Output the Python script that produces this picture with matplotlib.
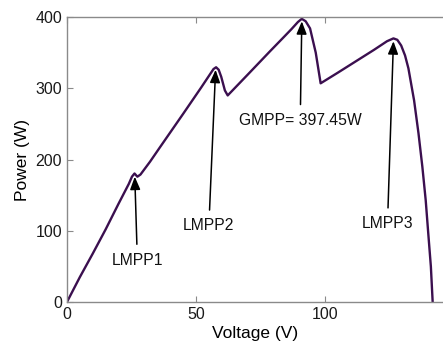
import numpy as np
import matplotlib.pyplot as plt

plt.rcParams['font.family'] = ['Liberation Sans', 'DejaVu Sans']

# P-V curve of a partially shaded array
voltage = [0, 5, 10, 15, 20, 24, 25.2, 26.2, 27.3, 28.5, 32.2, 36, 45, 52,
           55.5, 56.8, 57.8, 58.8, 59.8, 61.2, 62.3, 70, 78.7, 83.8, 87,
           89.5, 91, 92.5, 94.2, 96.4, 98.3, 105, 112, 119, 124, 126.5,
           128, 129.5, 131, 132.3, 134.5, 136.2, 137.7, 139.0, 140.0, 141.0, 141.7]
power = [0, 35, 68, 102, 138, 166, 176, 180.5, 176, 179, 197, 217, 264, 301,
         320, 327, 329.5, 326, 316, 297, 290, 319, 352, 371, 383,
         393, 397.45, 394, 384, 350, 307, 322, 338, 354, 366, 370,
         368, 360, 346, 328, 283, 237, 190, 143, 96, 50, 0]

# annotations: label, arrow tip, text centre
labels = ['LMPP1', 'LMPP2', 'GMPP= 397.45W', 'LMPP3']
tips = [(26.3, 176), (57.6, 326), (91, 394), (126.5, 366)]
text_pos = [(27.3, 59), (55.0, 107), (90.4, 255), (124.2, 110)]

fig = plt.figure(figsize=(4.43, 3.58), dpi=100)
ax = fig.add_axes([0.151, 0.156, 0.849, 0.7965])

ax.plot(voltage, power, color='#3b0f4f', lw=1.7)

for lab, tip, pos in zip(labels, tips, text_pos):
    ax.annotate(lab, xy=tip, xytext=pos, ha='center', va='center',
                fontsize=11.3, color='#111111',
                arrowprops=dict(arrowstyle='-|>,head_length=0.55,head_width=0.22',
                                color='black', lw=1.1,
                                mutation_scale=14, shrinkA=4, shrinkB=0))

ax.set_xlim(0, 145.7)
ax.set_ylim(0, 400)
ax.set_xticks([0, 50, 100])
ax.set_yticks([0, 100, 200, 300, 400])
ax.set_xlabel('Voltage (V)', fontsize=12.5, labelpad=3)
ax.set_ylabel('Power (W)', fontsize=12.5, labelpad=4)

for side in ['left', 'bottom', 'top']:
    ax.spines[side].set_color('#8a8a8a')
    ax.spines[side].set_linewidth(1.0)
ax.spines['right'].set_visible(False)
ax.tick_params(direction='in', length=4, color='#8a8a8a', labelsize=11.5,
               labelcolor='#1a1a1a', top=True)

fig.savefig('out.png', dpi=100)
